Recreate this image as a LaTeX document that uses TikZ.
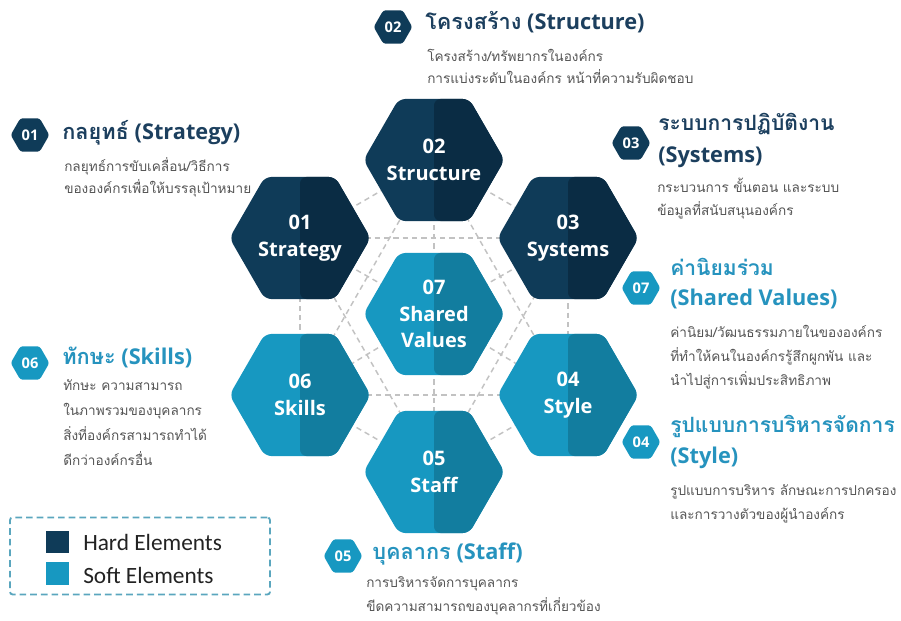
\documentclass[tikz,border=0pt]{standalone}
\usepackage{fontspec}
\setmainfont{Open Sans}
\newfontfamily\thai[Script=Thai]{Loma}
\newfontfamily\legendfont{Carlito}
\usetikzlibrary{shapes.geometric,backgrounds}
\definecolor{hardL}{HTML}{0F3B58}
\definecolor{hardR}{HTML}{0A2C44}
\definecolor{softL}{HTML}{1798C1}
\definecolor{softR}{HTML}{127D9F}
\definecolor{hardT}{HTML}{1C3F5E}
\definecolor{softT}{HTML}{2693BE}
\definecolor{descT}{HTML}{555555}
\definecolor{dashG}{HTML}{C2C2C2}
\definecolor{legendB}{HTML}{5AA6BE}
\definecolor{legendT}{HTML}{222222}
\tikzset{
  hexbase/.style={regular polygon, regular polygon sides=6, minimum size=105.75pt,
    inner sep=0pt, rounded corners=5pt},
  hexlabel/.style={text=white, align=center, inner sep=0pt,
    font=\bfseries\fontsize{15}{20}\selectfont},
  hardhex/.style={hexbase, fill=hardL, path picture={\fill[hardR]
    (path picture bounding box.north) rectangle (path picture bounding box.south east);}},
  softhex/.style={hexbase, fill=softL, path picture={\fill[softR]
    (path picture bounding box.north) rectangle (path picture bounding box.south east);}},
  badge/.style={regular polygon, regular polygon sides=6, minimum size=29pt,
    inner sep=0pt, rounded corners=2pt, text=white, font=\bfseries\fontsize{11}{12}\selectfont},
  hardbadge/.style={badge, fill=hardL},
  softbadge/.style={badge, fill=softL},
  ttl/.style={anchor=west, inner sep=0pt, text height=0.75em, text depth=0.05em,
    font=\bfseries\fontsize{16.3}{19}\selectfont},
  hardttl/.style={ttl, text=hardT},
  softttl/.style={ttl, text=softT},
  thaittl/.style={font=\thai\bfseries\fontsize{15.8}{19}\selectfont},
  desc/.style={anchor=west, inner sep=0pt, text height=0.7em, text depth=0.1em,
    text=descT, font=\thai\fontsize{10.2}{14}\selectfont},
  dashline/.style={draw=dashG, line width=1.1pt, dash pattern=on 4pt off 3pt},
  legtext/.style={anchor=west, inner sep=0pt, text=legendT, font=\legendfont\fontsize{17.5}{20}\selectfont}
}
\begin{document}
\begin{tikzpicture}[x=0.75pt, y=-0.75pt]
\useasboundingbox (0,0) rectangle (901,621);
% main hexagons
\node[softhex, label={[hexlabel]center:07\\Shared\\Values}] (h7) at (434,314) {};
\node[hardhex, label={[hexlabel]center:02\\Structure}] (h2) at (434,160) {};
\node[softhex, label={[hexlabel]center:05\\Staff}] (h5) at (434,472) {};
\node[hardhex, label={[hexlabel]center:01\\Strategy}] (h1) at (300,238) {};
\node[hardhex, label={[hexlabel]center:03\\Systems}] (h3) at (568,238) {};
\node[softhex, label={[hexlabel]center:06\\Skills}] (h6) at (300,395) {};
\node[softhex, label={[hexlabel]center:04\\Style}] (h4) at (568,395) {};
% dashed connectors between all hexagon centres
\begin{scope}[on background layer]
\foreach \a/\b in {h1/h2,h2/h3,h3/h4,h4/h5,h5/h6,h6/h1,
                   h7/h1,h7/h2,h7/h3,h7/h4,h7/h5,h7/h6,
                   h1/h3,h3/h5,h5/h1,h2/h4,h4/h6,h6/h2}
  \draw[dashline] (\a.center) -- (\b.center);
\end{scope}
% badges
\node[hardbadge] (b1) at (30,135) {01};
\node[hardbadge] (b2) at (393,27) {02};
\node[hardbadge] (b3) at (631,143) {03};
\node[softbadge] (b7) at (641,288) {07};
\node[softbadge] (b4) at (641,442) {04};
\node[softbadge] (b5) at (343,556) {05};
\node[softbadge] (b6) at (30,363) {06};
% titles
\node[hardttl] (t1) at (62,135) {{\thai กลยุทธ์} (Strategy)};
\node[hardttl] (t2) at (425,25) {{\thai โครงสร้าง} (Structure)};
\node[hardttl, thaittl] (t3a) at (658,126) {ระบบการปฏิบัติงาน};
\node[hardttl] (t3b) at (658,158) {(Systems)};
\node[softttl, thaittl] (t7a) at (670,271) {ค่านิยมร่วม};
\node[softttl] (t7b) at (670,301) {(Shared Values)};
\node[softttl, thaittl] (t4a) at (670,428) {รูปแบบการบริหารจัดการ};
\node[softttl] (t4b) at (670,459) {(Style)};
\node[softttl] (t5) at (372,555) {{\thai บุคลากร} (Staff)};
\node[softttl] (t6) at (62,360) {{\thai ทักษะ} (Skills)};
% descriptions
\node[desc] (d1a) at (64,167) {กลยุทธ์การขับเคลื่อน/วิธีการ};
\node[desc] (d1b) at (64,189) {ขององค์กรเพื่อให้บรรลุเป้าหมาย};
\node[desc] (d2a) at (427,57) {โครงสร้าง/ทรัพยากรในองค์กร};
\node[desc] (d2b) at (427,80) {การแบ่งระดับในองค์กร หน้าที่ความรับผิดชอบ};
\node[desc] (d3a) at (657,188) {กระบวนการ ขั้นตอน และระบบ};
\node[desc] (d3b) at (657,211) {ข้อมูลที่สนับสนุนองค์กร};
\node[desc] (d7a) at (670,333) {ค่านิยม/วัฒนธรรมภายในขององค์กร};
\node[desc] (d7b) at (670,357) {ที่ทำให้คนในองค์กรรู้สึกผูกพัน และ};
\node[desc] (d7c) at (670,381) {นำไปสู่การเพิ่มประสิทธิภาพ};
\node[desc] (d4a) at (670,491) {รูปแบบการบริหาร ลักษณะการปกครอง};
\node[desc] (d4b) at (670,515) {และการวางตัวของผู้นำองค์กร};
\node[desc] (d5a) at (366,583) {การบริหารจัดการบุคลากร};
\node[desc] (d5b) at (366,607) {ขีดความสามารถของบุคลากรที่เกี่ยวข้อง};
\node[desc] (d6a) at (63,386) {ทักษะ ความสามารถ};
\node[desc] (d6b) at (63,411) {ในภาพรวมของบุคลากร};
\node[desc] (d6c) at (63,436) {สิ่งที่องค์กรสามารถทำได้};
\node[desc] (d6d) at (63,461) {ดีกว่าองค์กรอื่น};
% legend
\node[draw=legendB, line width=1.4pt, dash pattern=on 5pt off 3pt, rounded corners=2pt,
      minimum width=195pt, minimum height=57.75pt, inner sep=0pt] (leg) at (140,556) {};
\node[fill=hardL, minimum size=17pt, inner sep=0pt] (sqh) at (57.5,542) {};
\node[fill=softL, minimum size=17pt, inner sep=0pt] (sqs) at (57.5,573.5) {};
\node[legtext] (lh) at (83,542) {Hard Elements};
\node[legtext] (ls) at (83,575) {Soft Elements};
\end{tikzpicture}
\end{document}
